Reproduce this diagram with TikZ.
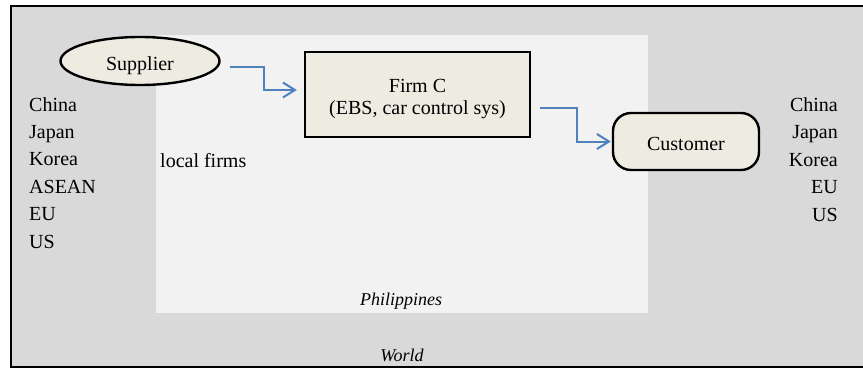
\documentclass[tikz,border=0pt]{standalone}
\usepackage{fontspec}
\setmainfont{Liberation Serif}
\usetikzlibrary{shapes.geometric,arrows.meta}
\definecolor{worldgray}{HTML}{D9D9D9}
\definecolor{philgray}{HTML}{F2F2F2}
\definecolor{boxfill}{HTML}{EEECE1}
\definecolor{flowblue}{HTML}{4F81BD}
% lower the text inside a node, keeping its size
\newcommand{\dropby}[2]{\raisebox{-#1}[\height][\depth]{#2}}
\tikzset{
    place/.style={draw=black, line width=2.4pt, fill=boxfill, inner sep=0pt, font=\fontsize{20}{23}\selectfont},
    flow/.style={draw=flowblue, line width=2pt, -{Straight Barb[length=12pt,width=15pt]}},
    country/.style={font=\fontsize{20}{24}\selectfont, inner sep=0pt},
    region/.style={font=\fontsize{18}{22}\selectfont\itshape, inner sep=0pt}
}
\begin{document}
\begin{tikzpicture}[x=1pt, y=-1pt]
            \useasboundingbox (0,0) rectangle (863,369);
            % Regions
            \draw[line width=2.4pt, fill=worldgray] (11,6) rectangle (872,367);
            \fill[philgray] (156,35) rectangle (648,313);
            \node[region, anchor=base] (phil) at (401,305) {Philippines};
            \node[region, anchor=base] (world) at (402,361) {World};
            % Countries
            \foreach \n [count=\i from 0] in {China, Japan, Korea, ASEAN, EU, US} {
                \node[country, anchor=base west] (west-\i) at (29,{111+27.4*\i}) {\n};
            }
            \foreach \n [count=\i from 0] in {China, Japan, Korea, EU, US} {
                \node[country, anchor=base east] (east-\i) at (838,{111.5+27.4*\i}) {\n};
            }
            \node[country, anchor=base west] (local) at (160,167) {local firms};
            % Actors
            \node[place, ellipse, minimum width=159pt, minimum height=48pt] (supplier) at (140,61) {\dropby{4.5pt}{Supplier}};
            \node[place, minimum width=225pt, minimum height=85pt] (firm) at (417.5,94.5)
                {\dropby{4.5pt}{\begin{tabular}{@{}c@{}}Firm C\\[-1pt](EBS, car control sys)\end{tabular}}};
            \node[place, rounded corners=18pt, minimum width=146pt, minimum height=57pt] (customer) at (686,141.5) {\dropby{2pt}{Customer}};
            % Flows
            \draw[flow] ([xshift=9pt,yshift=-6pt]supplier.east) -- ++(34,0) |- ([xshift=-7pt,yshift=4.5pt]firm.west);
            \draw[flow] ([xshift=9pt,yshift=-13.5pt]firm.east) -- ++(37,0) |- ([xshift=-1pt]customer.west);
        \end{tikzpicture}
\end{document}
